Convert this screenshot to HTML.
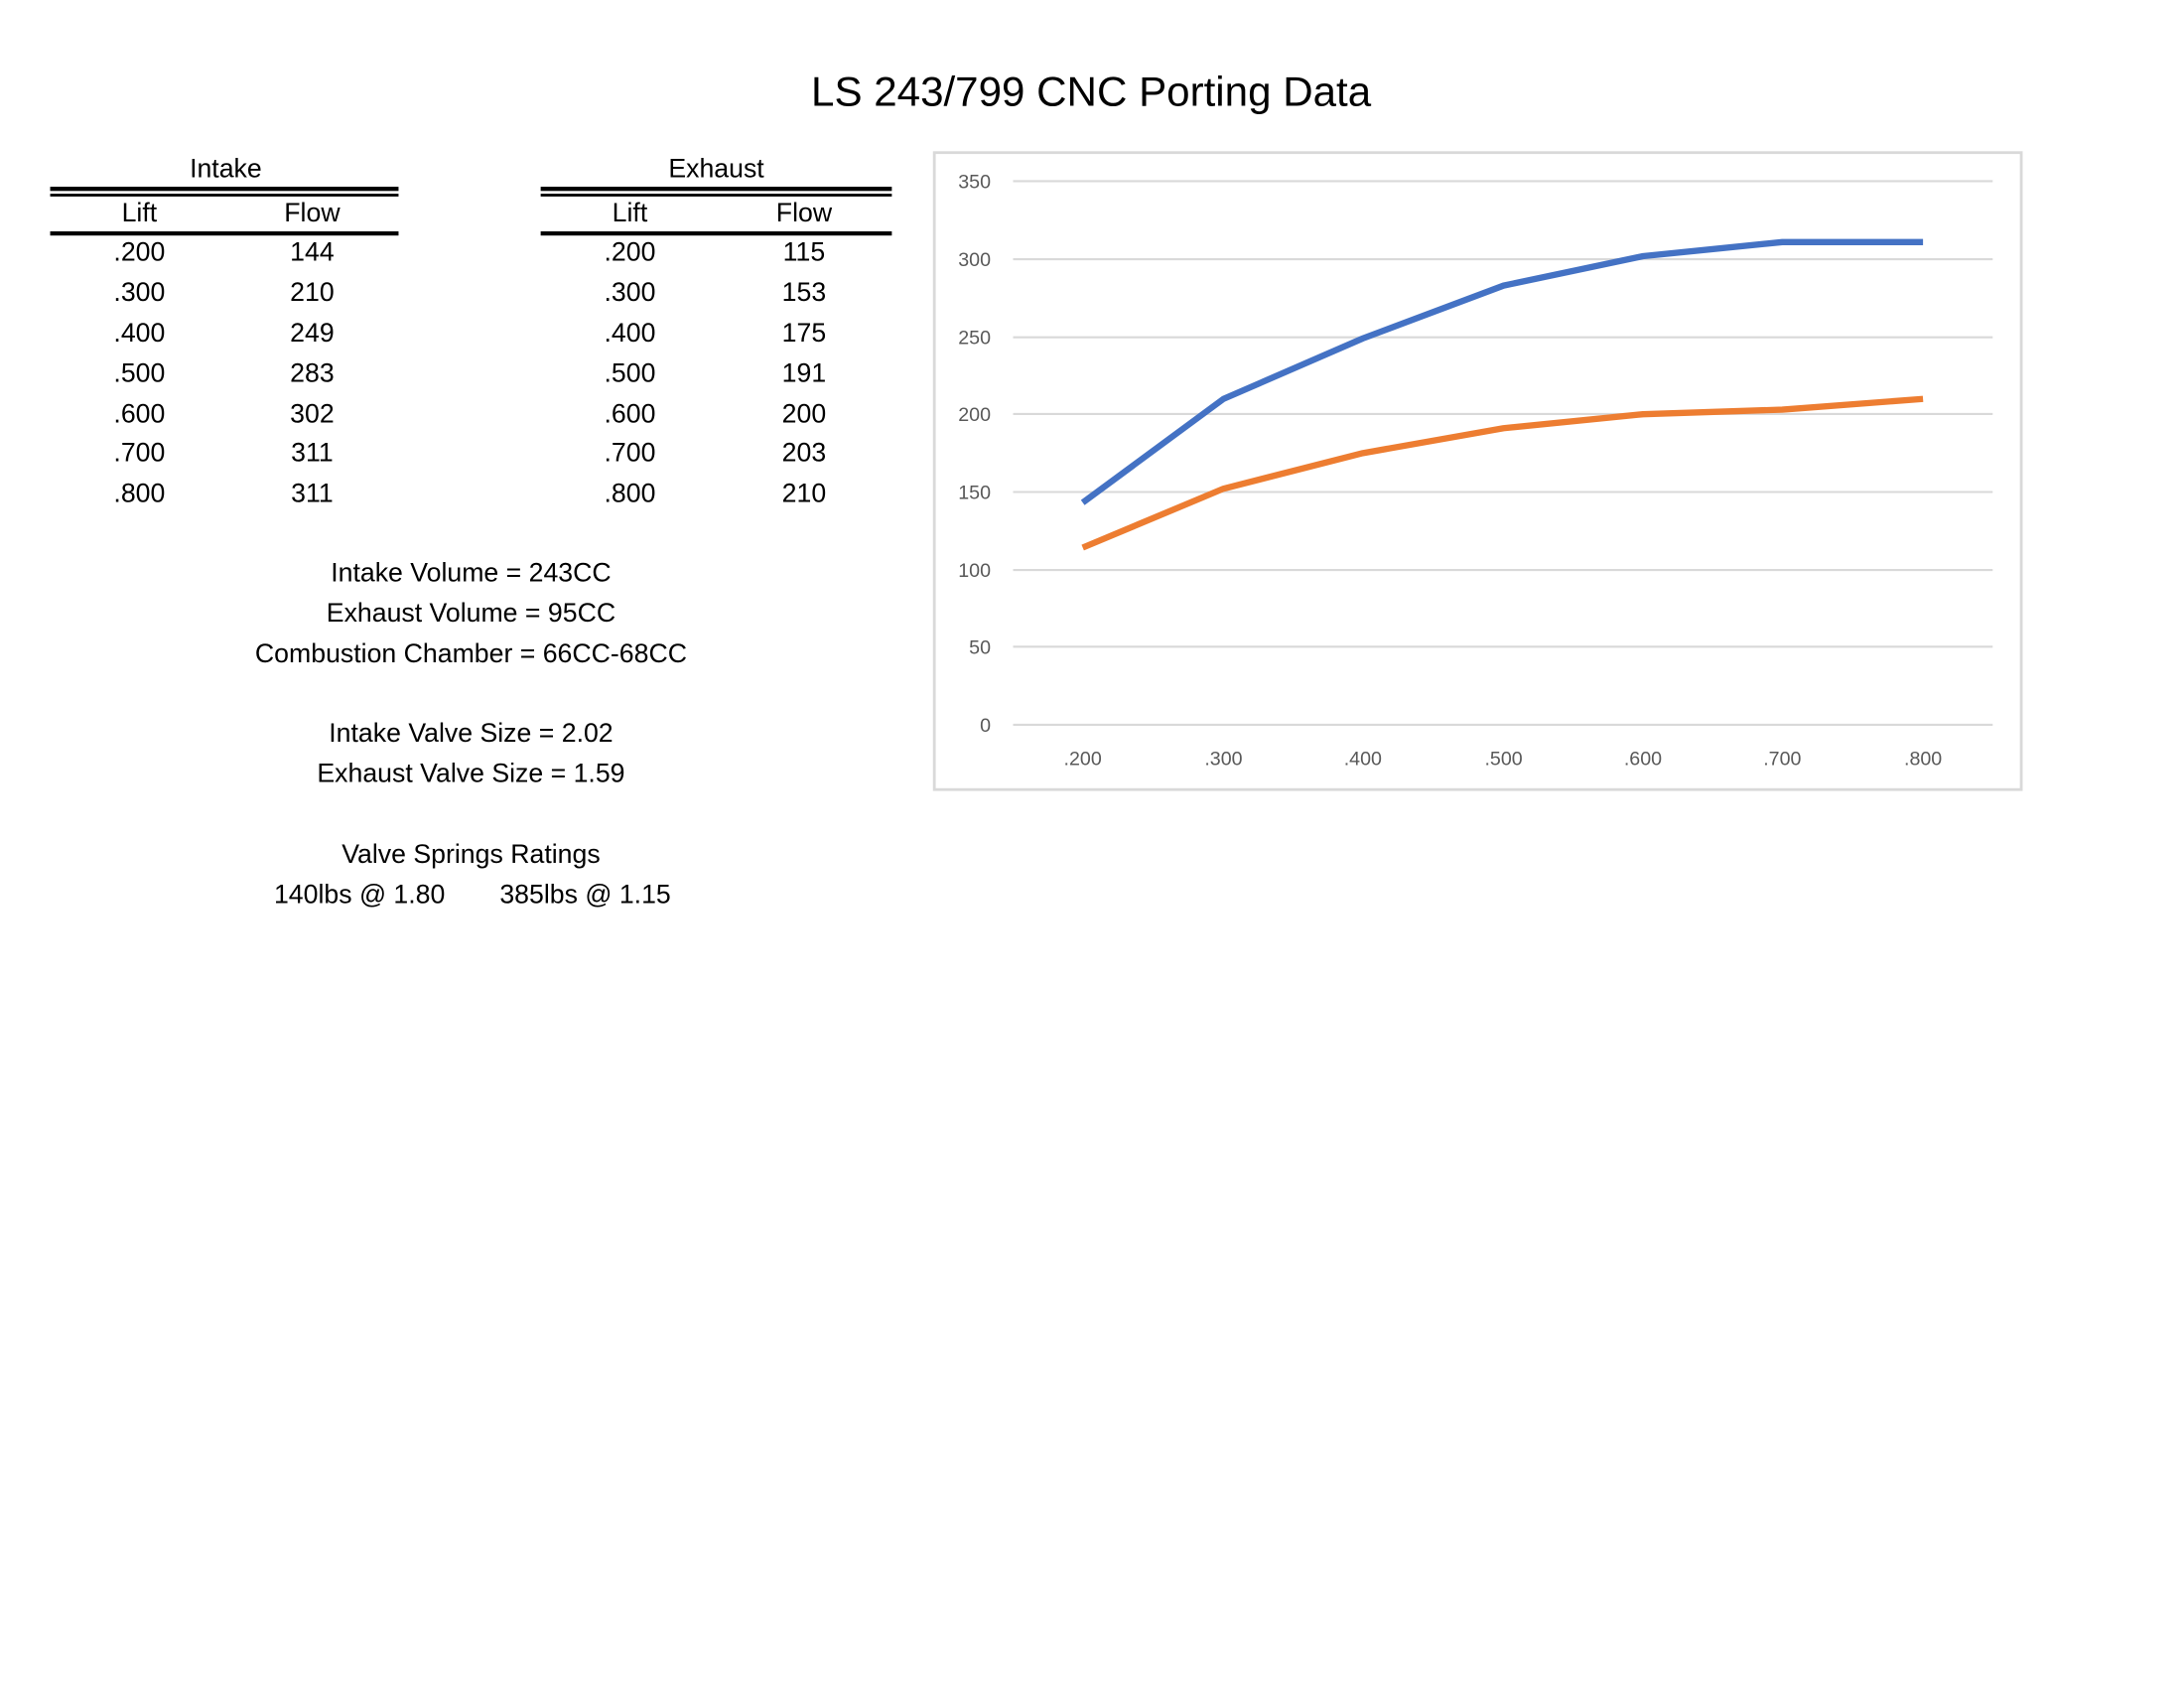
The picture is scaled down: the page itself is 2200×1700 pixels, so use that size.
<!DOCTYPE html>
<html><head><meta charset="utf-8"><style>
html,body{margin:0;padding:0;background:#fff;}
#w{position:absolute;left:0;top:0;width:1553px;height:1200px;transform:scale(1.4037);transform-origin:0 0;font-family:"Liberation Sans",sans-serif;color:#000;overflow:hidden;}
.t{position:absolute;white-space:nowrap;transform:translate(-50%,-50%);font-size:19px;}
.ln{position:absolute;background:#000;}
</style></head><body><div id="w">
<div class="t" style="left:783px;top:67px;font-size:30px;">LS 243/799 CNC Porting Data</div>

<div class="t" style="left:162px;top:122px;">Intake</div>
<div class="ln" style="left:36px;top:134px;width:250px;height:3px"></div>
<div class="ln" style="left:36px;top:139px;width:250px;height:2px"></div>
<div class="t" style="left:100px;top:154px;">Lift</div>
<div class="t" style="left:224px;top:154px;">Flow</div>
<div class="ln" style="left:36px;top:166px;width:250px;height:3px"></div>

<div class="t" style="left:514px;top:122px;">Exhaust</div>
<div class="ln" style="left:388px;top:134px;width:252px;height:3px"></div>
<div class="ln" style="left:388px;top:139px;width:252px;height:2px"></div>
<div class="t" style="left:452px;top:154px;">Lift</div>
<div class="t" style="left:577px;top:154px;">Flow</div>
<div class="ln" style="left:388px;top:166px;width:252px;height:3px"></div>

<div class="t" style="left:100px;top:182px">.200</div><div class="t" style="left:224px;top:182px">144</div><div class="t" style="left:452px;top:182px">.200</div><div class="t" style="left:577px;top:182px">115</div>
<div class="t" style="left:100px;top:211px">.300</div><div class="t" style="left:224px;top:211px">210</div><div class="t" style="left:452px;top:211px">.300</div><div class="t" style="left:577px;top:211px">153</div>
<div class="t" style="left:100px;top:240px">.400</div><div class="t" style="left:224px;top:240px">249</div><div class="t" style="left:452px;top:240px">.400</div><div class="t" style="left:577px;top:240px">175</div>
<div class="t" style="left:100px;top:269px">.500</div><div class="t" style="left:224px;top:269px">283</div><div class="t" style="left:452px;top:269px">.500</div><div class="t" style="left:577px;top:269px">191</div>
<div class="t" style="left:100px;top:298px">.600</div><div class="t" style="left:224px;top:298px">302</div><div class="t" style="left:452px;top:298px">.600</div><div class="t" style="left:577px;top:298px">200</div>
<div class="t" style="left:100px;top:326px">.700</div><div class="t" style="left:224px;top:326px">311</div><div class="t" style="left:452px;top:326px">.700</div><div class="t" style="left:577px;top:326px">203</div>
<div class="t" style="left:100px;top:355px">.800</div><div class="t" style="left:224px;top:355px">311</div><div class="t" style="left:452px;top:355px">.800</div><div class="t" style="left:577px;top:355px">210</div>

<div class="t" style="left:338px;top:412px">Intake Volume = 243CC</div>
<div class="t" style="left:338px;top:441px">Exhaust Volume = 95CC</div>
<div class="t" style="left:338px;top:470px">Combustion Chamber = 66CC-68CC</div>
<div class="t" style="left:338px;top:527px">Intake Valve Size = 2.02</div>
<div class="t" style="left:338px;top:556px">Exhaust Valve Size = 1.59</div>
<div class="t" style="left:338px;top:614px">Valve Springs Ratings</div>
<div class="t" style="left:258px;top:643px">140lbs @ 1.80</div>
<div class="t" style="left:420px;top:643px">385lbs @ 1.15</div>

<svg style="position:absolute;left:0;top:0" width="1553" height="1200">
<rect x="670.5" y="109.5" width="780" height="457" fill="none" stroke="#d9d9d9" stroke-width="2"/>
<g stroke="#d9d9d9" stroke-width="1.5">
<line x1="727" x2="1430" y1="130" y2="130"/><line x1="727" x2="1430" y1="186" y2="186"/>
<line x1="727" x2="1430" y1="242" y2="242"/><line x1="727" x2="1430" y1="297" y2="297"/>
<line x1="727" x2="1430" y1="353" y2="353"/><line x1="727" x2="1430" y1="409" y2="409"/>
<line x1="727" x2="1430" y1="464" y2="464"/><line x1="727" x2="1430" y1="520" y2="520"/>
</g>
<g font-family="Liberation Sans,sans-serif" font-size="14" fill="#595959" text-anchor="end">
<text x="711" y="135">350</text><text x="711" y="191">300</text><text x="711" y="247">250</text><text x="711" y="302">200</text>
<text x="711" y="358">150</text><text x="711" y="414">100</text><text x="711" y="469">50</text><text x="711" y="525">0</text>
</g>
<g font-family="Liberation Sans,sans-serif" font-size="14" fill="#595959" text-anchor="middle">
<text x="777" y="549">.200</text><text x="878" y="549">.300</text><text x="978" y="549">.400</text><text x="1079" y="549">.500</text>
<text x="1179" y="549">.600</text><text x="1279" y="549">.700</text><text x="1380" y="549">.800</text>
</g>
<polyline fill="none" stroke="#4472C4" stroke-width="4.5" stroke-linejoin="round" points="777,360.6 878,286.2 978,242.8 1079,204.9 1179,183.8 1279,173.7 1380,173.7"/>
<polyline fill="none" stroke="#ED7D31" stroke-width="4.5" stroke-linejoin="round" points="777,392.9 878,350.6 978,325.1 1079,307.2 1179,297.2 1279,293.9 1380,286.2"/>
</svg>
</div></body></html>
